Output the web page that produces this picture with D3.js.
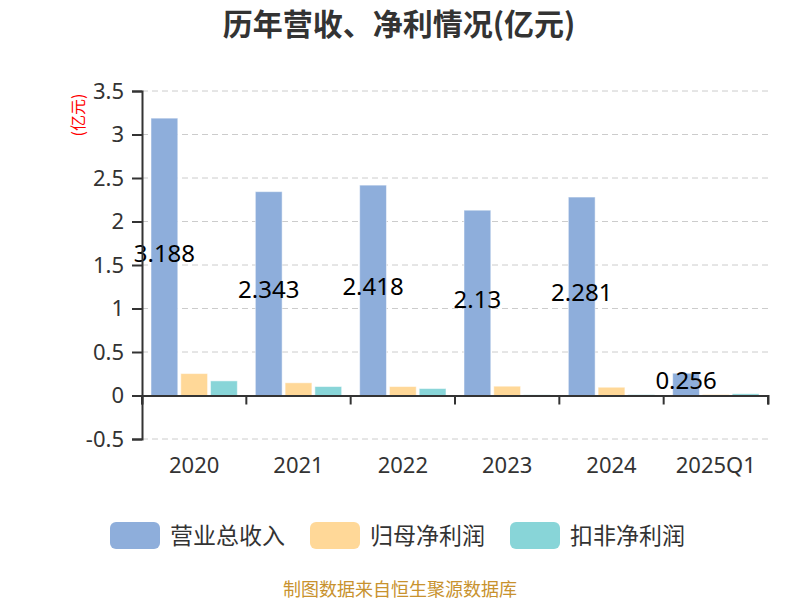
<!DOCTYPE html>
<html lang="zh">
  <head>
    <meta charset="utf-8">
    <title>历年营收、净利情况</title>
    <script src="https://d3js.org/d3.v7.min.js"></script>
    <style>
      body { margin: 0; background: #fff; font-family: "Noto Sans CJK SC", "Noto Sans", sans-serif; }
    </style>
  </head>
  <body>
    <script type="text/javascript">

      var years = ["2020", "2021", "2022", "2023", "2024", "2025Q1"];
      var seriesNames = ["营业总收入", "归母净利润", "扣非净利润"];
      var revenue = [3.188, 2.343, 2.418, 2.13, 2.281, 0.256];
      var netProfit = [0.252, 0.146, 0.103, 0.107, 0.095, 0.012];
      var netProfitDed = [0.168, 0.103, 0.08, 0.008, 0.01, 0.02];
      var yTicks = [-0.5, 0, 0.5, 1, 1.5, 2, 2.5, 3, 3.5];
      var colors = ["#8eaedb", "#ffd898", "#88d5d8"];

      var w = 800, h = 600;
      var margin = {top: 91, right: 32, bottom: 161, left: 142};

      var svg = d3.select("body").append("svg")
          .attr("width", w)
          .attr("height", h);

      var xscale = d3.scaleBand()
          .domain(years)
          .range([margin.left, w - margin.right]);

      var inner = d3.scaleBand()
          .domain(seriesNames)
          .range([9, xscale.bandwidth() - 9])
          .paddingInner(0.1);

      var yscale = d3.scaleLinear()
          .domain([-0.5, 3.5])
          .range([h - margin.bottom, margin.top]);

      // grid
      svg.append("g")
        .selectAll("line")
        .data(yTicks)
        .enter().append("line")
          .attr("x1", margin.left)
          .attr("x2", w - margin.right)
          .attr("y1", d => yscale(d))
          .attr("y2", d => yscale(d))
          .attr("stroke", "#ccc")
          .attr("stroke-dasharray", "6,4");

      // bars
      var table = years.map((y, i) => ({year: y, values: [revenue[i], netProfit[i], netProfitDed[i]]}));

      var groups = svg.append("g")
        .selectAll("g")
        .data(table)
        .enter().append("g")
          .attr("transform", d => "translate(" + xscale(d.year) + ",0)");

      groups.selectAll("rect")
        .data(d => d.values.map((v, j) => ({name: seriesNames[j], value: v, c: colors[j]})))
        .enter().append("rect")
          .attr("x", d => inner(d.name))
          .attr("width", inner.bandwidth())
          .attr("y", d => yscale(Math.max(0, d.value)))
          .attr("height", d => Math.abs(yscale(d.value) - yscale(0)))
          .attr("fill", d => d.c)
          .attr("stroke", "rgba(255,255,255,0.5)")
          .attr("stroke-width", 1);

      // value labels for revenue
      groups.append("text")
          .attr("x", inner(seriesNames[0]) + inner.bandwidth() / 2)
          .attr("y", d => (yscale(d.values[0]) + yscale(0)) / 2)
          .attr("dy", "0.2em")
          .attr("text-anchor", "middle")
          .attr("font-size", 24)
          .attr("fill", "#000")
          .attr("font-family", "'Noto Sans', sans-serif")
          .text(d => d.values[0]);

      // axes
      var y_axis = d3.axisLeft(yscale).tickValues(yTicks).tickSize(10).tickPadding(8)
          .tickFormat(d => d);
      var yg = svg.append("g")
          .attr("transform", "translate(" + margin.left + ",0)")
          .call(y_axis);
      yg.select(".domain").attr("stroke", "#333").attr("stroke-width", 2);
      yg.selectAll(".tick line").attr("stroke", "#333").attr("stroke-width", 2);
      yg.selectAll("text").attr("font-size", 22).attr("fill", "#333")
          .attr("font-family", "'Noto Sans', sans-serif");

      var x_axis = d3.axisBottom(xscale).tickSize(9).tickPadding(0).tickFormat("");
      var xg = svg.append("g")
          .attr("transform", "translate(0," + yscale(0) + ")")
          .call(x_axis);
      xg.select(".domain").attr("stroke", "#333").attr("stroke-width", 2);
      // ticks at band boundaries
      xg.selectAll(".tick").remove();
      xg.selectAll("line.edge")
        .data(years.map(y => xscale(y)).concat([xscale.range()[1]]))
        .enter().append("line")
          .attr("x1", d => d).attr("x2", d => d)
          .attr("y1", 0).attr("y2", 9)
          .attr("stroke", "#333").attr("stroke-width", 2);

      svg.append("g")
        .selectAll("text")
        .data(years)
        .enter().append("text")
          .attr("x", d => xscale(d) + xscale.bandwidth() / 2)
          .attr("y", 473)
          .attr("text-anchor", "middle")
          .attr("font-size", 22)
          .attr("fill", "#333")
          .attr("font-family", "'Noto Sans', sans-serif")
          .text(d => d);

      // unit label
      svg.append("text")
          .attr("transform", "translate(84,115) rotate(-90)")
          .attr("text-anchor", "middle")
          .attr("font-size", 16)
          .attr("fill", "red")
          .text("(亿元)");

      // title
      svg.append("text")
          .attr("x", 399)
          .attr("y", 35)
          .attr("text-anchor", "middle")
          .attr("font-size", 30)
          .attr("font-weight", "bold")
          .attr("fill", "#333")
          .text("历年营收、净利情况(亿元)");

      // legend
      var legendX = [110, 310, 510];
      var lg = svg.append("g")
        .selectAll("g")
        .data(seriesNames)
        .enter().append("g")
          .attr("transform", (d, i) => "translate(" + legendX[i] + ",522)");
      lg.append("rect")
          .attr("width", 50).attr("height", 27).attr("rx", 6)
          .attr("fill", (d, i) => colors[i]);
      lg.append("text")
          .attr("x", 60).attr("y", 22)
          .attr("font-size", 23)
          .attr("fill", "#333")
          .text(d => d);

      // source
      svg.append("text")
          .attr("x", 400)
          .attr("y", 596)
          .attr("text-anchor", "middle")
          .attr("font-size", 18)
          .attr("fill", "#c8922e")
          .text("制图数据来自恒生聚源数据库");

    </script>
  </body>
</html>
